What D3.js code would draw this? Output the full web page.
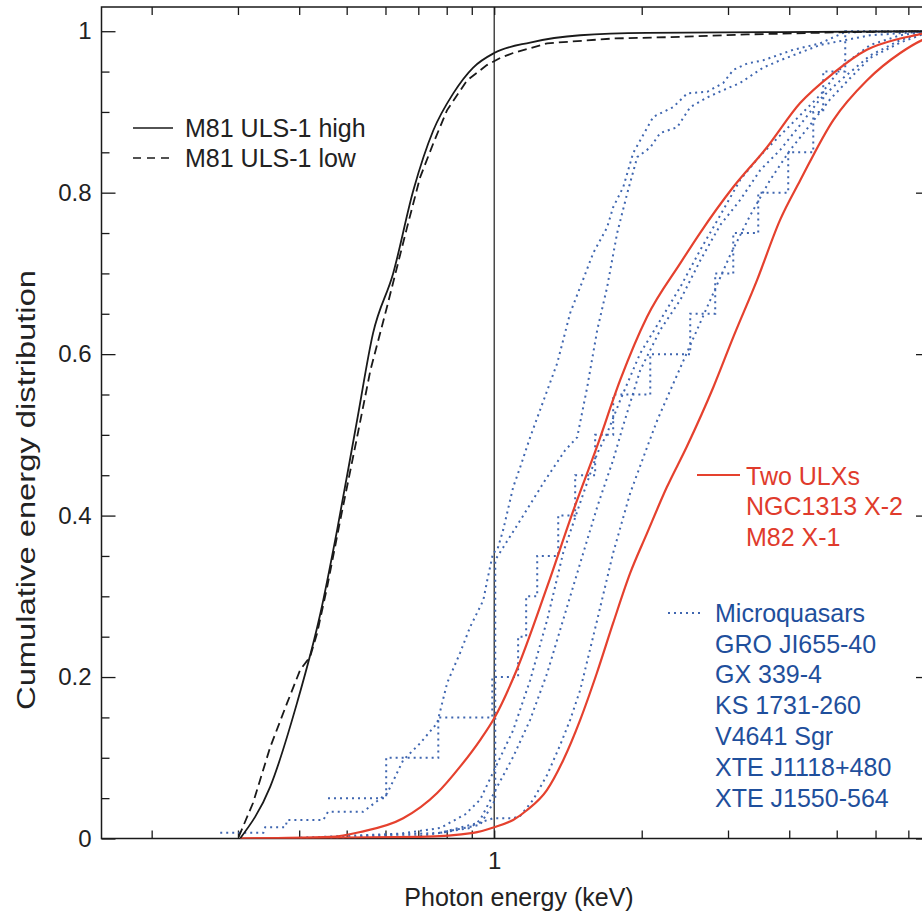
<!DOCTYPE html>
<html>
<head>
<meta charset="utf-8">
<script src="https://cdn.jsdelivr.net/npm/d3@7"></script>
<style>
  body { margin: 0; background: #fff; }
  text { font-family: "Liberation Sans", Arial, Helvetica, sans-serif; }
</style>
</head>
<body>
<div id="chart"></div>
<script>
// axis limits and ticks
var xDomain = [0.158, 7.75];
var yDomain = [0, 1.03];
var xTicks = [0.2, 0.3, 0.4, 0.5, 0.6, 0.7, 0.8, 0.9, 1, 2, 3, 4, 5, 6, 7];
var xTickLabels = ["", "", "", "", "", "", "", "", "1", "", "", "", "", "", ""];
var yTicks = [0, 0.2, 0.4, 0.6, 0.8, 1];
var yTickLabels = ["0", "0.2", "0.4", "0.6", "0.8", "1"];
var yMinorTicks = [0.05, 0.1, 0.15, 0.25, 0.3, 0.35, 0.45, 0.5, 0.55, 0.65, 0.7, 0.75, 0.85, 0.9, 0.95];

// [photon energy keV, cumulative fraction]
var m81High = [[0.303,0],[0.349,0.064],[0.396,0.168],[0.442,0.279],[0.478,0.382],[0.525,0.518],[0.566,0.626],
  [0.622,0.700],[0.684,0.803],[0.751,0.877],[0.825,0.923],[0.906,0.955],[1.0,0.973],[1.184,0.986],[1.498,0.995],
  [2.05,0.998],[3.83,0.999],[7.75,1.0]];
var m81Low = [[0.301,0.002],[0.322,0.044],[0.349,0.113],[0.378,0.168],[0.402,0.209],[0.421,0.225],[0.435,0.254],
  [0.456,0.311],[0.485,0.394],[0.525,0.497],[0.559,0.580],[0.604,0.658],[0.664,0.757],[0.706,0.819],[0.751,0.861],
  [0.801,0.902],[0.880,0.939],[0.966,0.958],[1.029,0.967],[1.093,0.973],[1.283,0.985],[1.75,0.991],[2.40,0.993],
  [3.28,0.996],[5.33,0.999],[7.75,1.0]];
var ngc1313 = [[0.303,0],[0.463,0.002],[0.533,0.008],[0.652,0.025],[0.764,0.056],[0.852,0.089],[0.936,0.122],
  [1.0,0.149],[1.112,0.209],[1.281,0.311],[1.452,0.407],[1.62,0.485],[1.808,0.568],[2.05,0.646],[2.40,0.713],
  [2.63,0.750],[3.075,0.807],[3.60,0.856],[4.21,0.911],[4.92,0.948],[5.76,0.977],[6.74,0.991],[7.47,0.997],[7.75,1.0]];
var m82 = [[0.303,0],[0.706,0.002],[0.906,0.007],[1.0,0.014],[1.093,0.023],[1.166,0.035],[1.281,0.060],[1.383,0.097],
  [1.498,0.147],[1.62,0.205],[1.749,0.267],[1.895,0.329],[2.05,0.378],[2.25,0.435],[2.47,0.485],[2.80,0.559],
  [3.075,0.621],[3.44,0.692],[3.83,0.766],[4.21,0.815],[4.92,0.890],[5.76,0.939],[6.74,0.973],[7.47,0.989],[7.75,0.993]];

var groJ1655 = [[0.276,0.007],[0.338,0.007],[0.341,0.014],[0.375,0.014],[0.378,0.023],[0.448,0.023],[0.458,0.033],
  [0.540,0.033],[0.605,0.056],[0.652,0.097],[0.706,0.118],[0.765,0.143],[0.802,0.193],[0.852,0.230],[0.893,0.262],
  [0.950,0.295],[0.968,0.320],[0.995,0.354],[1.014,0.357],[1.043,0.382],[1.093,0.435],[1.130,0.460],[1.184,0.497],
  [1.241,0.531],[1.345,0.589],[1.429,0.651],[1.498,0.683],[1.592,0.725],[1.700,0.757],[1.749,0.782],[1.834,0.807],
  [1.921,0.849],[2.112,0.894],[2.319,0.906],[2.477,0.923],[2.721,0.925],[2.934,0.936],[3.075,0.952],[3.284,0.960],
  [3.540,0.964],[4.076,0.977],[4.627,0.985],[5.155,0.998],[5.584,0.999],[7.75,1.0]];
var gx339 = [[0.776,0.007],[0.936,0.017],[1.005,0.048],[1.005,0.345],[1.130,0.394],[1.271,0.444],[1.396,0.481],
  [1.477,0.497],[1.548,0.559],[1.623,0.630],[1.700,0.683],[1.782,0.750],[1.868,0.799],[1.958,0.844],[2.082,0.856],
  [2.182,0.874],[2.363,0.881],[2.512,0.906],[2.721,0.918],[2.934,0.927],[3.177,0.936],[3.540,0.955],[3.834,0.964],
  [4.627,0.983],[5.852,0.995],[7.75,1.0]];
var ks1731 = [[0.402,0.001],[0.643,0.006],[0.776,0.013],[0.873,0.030],[0.936,0.048],[0.995,0.082],[1.093,0.134],
  [1.184,0.196],[1.283,0.271],[1.383,0.354],[1.498,0.416],[1.623,0.477],[1.700,0.502],[1.808,0.543],[1.986,0.601],
  [2.182,0.642],[2.397,0.683],[2.633,0.729],[2.893,0.772],[3.177,0.816],[3.491,0.846],[3.834,0.871],[4.212,0.896],
  [4.627,0.921],[5.155,0.958],[5.852,0.983],[6.74,0.995],[7.473,0.999]];
var v4641 = [[0.463,0.001],[0.706,0.003],[0.893,0.013],[0.936,0.023],[1.014,0.064],[1.093,0.101],[1.184,0.147],
  [1.283,0.205],[1.383,0.271],[1.498,0.341],[1.623,0.411],[1.749,0.469],[1.834,0.512],[1.986,0.580],[2.182,0.630],
  [2.397,0.667],[2.633,0.716],[2.893,0.760],[3.177,0.791],[3.491,0.828],[3.834,0.853],[4.212,0.884],[4.627,0.916],
  [5.083,0.939],[5.852,0.970],[6.74,0.989],[7.473,0.998]];
var xteJ1118 = [[0.533,0.003],[0.776,0.007],[0.936,0.020],[0.995,0.025],[1.093,0.025],[1.130,0.028],[1.201,0.048],
  [1.283,0.079],[1.364,0.116],[1.429,0.147],[1.498,0.184],[1.623,0.271],[1.749,0.354],[1.895,0.428],[2.052,0.485],
  [2.151,0.518],[2.287,0.555],[2.512,0.611],[2.760,0.667],[3.032,0.723],[3.331,0.772],[3.659,0.816],[4.019,0.853],
  [4.415,0.884],[4.851,0.916],[5.328,0.942],[5.852,0.967],[6.74,0.986],[7.473,0.996]];
// binned, drawn as steps
var xteJ1550 = [[0.458,0.05],[0.602,0.10],[0.769,0.15],[0.991,0.20],[1.119,0.25],[1.162,0.30],[1.224,0.35],
  [1.351,0.40],[1.463,0.45],[1.607,0.50],[1.749,0.55],[2.082,0.60],[2.512,0.65],[2.825,0.70],[3.075,0.75],
  [3.458,0.80],[3.981,0.85],[4.478,0.90],[4.693,0.95],[5.204,1.0],[7.75,1.0]];

var blackLegend = ["M81 ULS-1 high", "M81 ULS-1 low"];
var redLegend = ["Two ULXs", "NGC1313 X-2", "M82 X-1"];
var blueLegend = ["Microquasars", "GRO JI655-40", "GX 339-4", "KS 1731-260", "V4641 Sgr", "XTE J1118+480", "XTE J1550-564"];

var red = "#e5412e", blue = "#3f66b0", blueText = "#1f4f9c", ink = "#1a1a1a";

var svg = d3.select("#chart").append("svg").attr("width", 922).attr("height", 913);
var pLeft = 101.5, pRight = 930, pTop = 7, pBottom = 838.5;

var x = d3.scaleLog().domain(xDomain).range([pLeft, pRight]);
var y = d3.scaleLinear().domain(yDomain).range([pBottom, pTop]);

svg.append("clipPath").attr("id", "plot")
  .append("rect").attr("x", pLeft).attr("y", pTop).attr("width", pRight - pLeft).attr("height", pBottom - pTop);

function styleAxis(g) {
  g.select(".domain").remove();
  g.selectAll(".tick line").attr("stroke", ink).attr("stroke-width", 1.3);
  g.selectAll(".tick text").attr("fill", "#222").attr("font-size", 24)
    .attr("font-family", "'Liberation Sans', Arial, sans-serif");
}

// x axis bottom / top
svg.append("g").attr("transform", "translate(0," + pBottom + ")")
  .call(d3.axisBottom(x).tickValues(xTicks).tickSizeInner(-8).tickSizeOuter(0).tickPadding(13)
    .tickFormat(function(d, i) { return xTickLabels[i]; }))
  .call(styleAxis);
svg.append("g").attr("transform", "translate(0," + pTop + ")")
  .call(d3.axisTop(x).tickValues(xTicks).tickSizeInner(-8).tickSizeOuter(0).tickFormat(""))
  .call(styleAxis);

// y axis left / right, major + minor
svg.append("g").attr("transform", "translate(" + pLeft + ",0)")
  .call(d3.axisLeft(y).tickValues(yTicks).tickSizeInner(-14).tickSizeOuter(0).tickPadding(10)
    .tickFormat(function(d, i) { return yTickLabels[i]; }))
  .call(styleAxis);
svg.append("g").attr("transform", "translate(" + pLeft + ",0)")
  .call(d3.axisLeft(y).tickValues(yMinorTicks).tickSizeInner(-8).tickSizeOuter(0).tickFormat(""))
  .call(styleAxis);
svg.append("g").attr("transform", "translate(" + pRight + ",0)")
  .call(d3.axisRight(y).tickValues(yTicks).tickSizeInner(-14).tickSizeOuter(0).tickFormat(""))
  .call(styleAxis);
svg.append("g").attr("transform", "translate(" + pRight + ",0)")
  .call(d3.axisRight(y).tickValues(yMinorTicks).tickSizeInner(-8).tickSizeOuter(0).tickFormat(""))
  .call(styleAxis);

svg.append("rect").attr("x", pLeft).attr("y", pTop).attr("width", pRight - pLeft).attr("height", pBottom - pTop)
  .attr("fill", "none").attr("stroke", ink).attr("stroke-width", 1.5);

// 1 keV marker
svg.append("line").attr("x1", x(1)).attr("x2", x(1)).attr("y1", y(yDomain[0])).attr("y2", y(yDomain[1]))
  .attr("stroke", ink).attr("stroke-width", 1.2);

var line = d3.line().x(function(d) { return x(d[0]); }).y(function(d) { return y(d[1]); });
var smooth = d3.line().curve(d3.curveMonotoneX).x(function(d) { return x(d[0]); }).y(function(d) { return y(d[1]); });
var stepLine = d3.line().curve(d3.curveStepAfter).x(function(d) { return x(d[0]); }).y(function(d) { return y(d[1]); });

var curves = svg.append("g").attr("clip-path", "url(#plot)");

[groJ1655, gx339, ks1731, v4641, xteJ1118].forEach(function(s) {
  curves.append("path").attr("d", line(s)).attr("fill", "none")
    .attr("stroke", blue).attr("stroke-width", 2).attr("stroke-dasharray", "2,4");
});
curves.append("path").attr("d", stepLine(xteJ1550)).attr("fill", "none")
  .attr("stroke", blue).attr("stroke-width", 2).attr("stroke-dasharray", "2,4");

[ngc1313, m82].forEach(function(s) {
  curves.append("path").attr("d", smooth(s)).attr("fill", "none")
    .attr("stroke", red).attr("stroke-width", 2.2);
});

curves.append("path").attr("d", smooth(m81High)).attr("fill", "none")
  .attr("stroke", ink).attr("stroke-width", 1.8);
curves.append("path").attr("d", line(m81Low)).attr("fill", "none")
  .attr("stroke", ink).attr("stroke-width", 1.8).attr("stroke-dasharray", "9,5");

// axis titles
svg.append("text").attr("x", 519).attr("y", 906).attr("text-anchor", "middle")
  .attr("font-size", 25).attr("fill", "#222").text("Photon energy (keV)");
svg.append("text").attr("transform", "translate(35,490) rotate(-90)").attr("text-anchor", "middle")
  .attr("font-size", 25).attr("fill", "#222")
  .attr("textLength", 440).attr("lengthAdjust", "spacingAndGlyphs")
  .text("Cumulative energy distribution");

// legends
var lg = svg.append("g").attr("font-size", 25);
blackLegend.forEach(function(t, i) {
  var cy = 128 + i * 30;
  lg.append("line").attr("x1", 133).attr("x2", 173).attr("y1", cy).attr("y2", cy)
    .attr("stroke", ink).attr("stroke-width", 1.6).attr("stroke-dasharray", i ? "8,6" : null);
  lg.append("text").attr("x", 185).attr("y", cy).attr("dy", "0.35em").attr("fill", "#222").text(t);
});

lg.append("line").attr("x1", 697).attr("x2", 740).attr("y1", 475).attr("y2", 475)
  .attr("stroke", red).attr("stroke-width", 2);
redLegend.forEach(function(t, i) {
  lg.append("text").attr("x", 746).attr("y", 476 + i * 30.5).attr("dy", "0.35em").attr("fill", "#e03b2c").text(t);
});

lg.append("line").attr("x1", 668).attr("x2", 702).attr("y1", 613).attr("y2", 613)
  .attr("stroke", blue).attr("stroke-width", 2).attr("stroke-dasharray", "2,4");
blueLegend.forEach(function(t, i) {
  lg.append("text").attr("x", 715).attr("y", 613 + i * 30.8).attr("dy", "0.35em").attr("fill", blueText).text(t);
});
</script>
</body>
</html>
